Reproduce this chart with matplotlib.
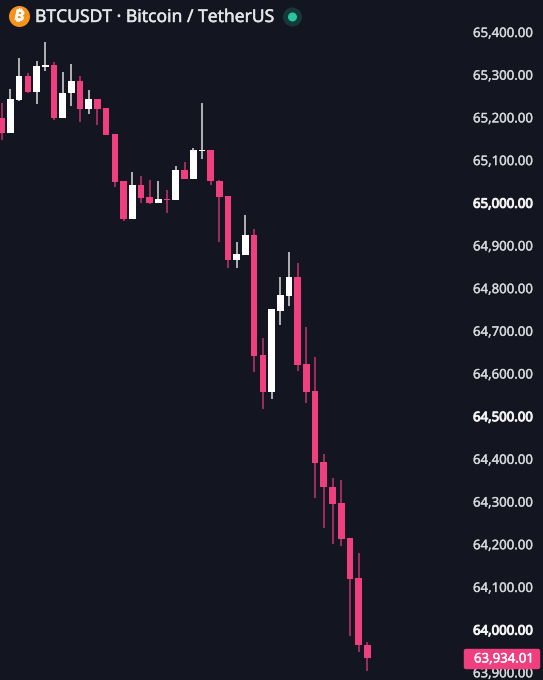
import matplotlib
matplotlib.use("Agg")
import matplotlib.pyplot as plt
import matplotlib.patheffects as pe
from matplotlib.patches import Circle, FancyBboxPatch
from matplotlib.transforms import Affine2D
import numpy as np

# candles, oldest first
opens = [65198, 65164, 65241, 65297, 65260, 65319, 65322, 65199, 65256, 65286, 65220,
         65243, 65222, 65162, 65050, 64963, 65042, 65014, 64999, 65009, 65007, 65076,
         65056, 65121, 65124, 65052, 65016, 64866, 64878, 64925, 64643, 64557, 64747,
         64782, 64825, 64622, 64559, 64393, 64335, 64296, 64215, 64121, 63964]
highs = [65234, 65266, 65338, 65303, 65331, 65377, 65330, 65306, 65324, 65297, 65264,
         65243, 65222, 65162, 65050, 65071, 65063, 65053, 65050, 65030, 65086, 65096,
         65128, 65234, 65124, 65054, 65016, 64907, 64971, 64938, 64683, 64752, 64827,
         64885, 64859, 64708, 64638, 64411, 64355, 64351, 64215, 64179, 63971]
lows = [65147, 65164, 65239, 65256, 65231, 65309, 65194, 65199, 65226, 65190, 65209,
        65183, 65159, 65038, 64957, 64963, 64999, 64996, 64999, 64975, 65007, 65056,
        65056, 65103, 65041, 64908, 64846, 64846, 64878, 64604, 64516, 64541, 64713,
        64758, 64606, 64531, 64308, 64237, 64201, 64195, 63986, 63947, 63904]
closes = [65164, 65243, 65297, 65260, 65320, 65322, 65199, 65258, 65286, 65220, 65243,
          65220, 65159, 65048, 64963, 65042, 65011, 64999, 65009, 65007, 65076, 65056,
          65124, 65123, 65050, 65014, 64866, 64880, 64925, 64641, 64557, 64750, 64784,
          64825, 64621, 64557, 64391, 64334, 64295, 64213, 64119, 63963, 63934.01]

tick_prices = [65400, 65300, 65200, 65100, 65000, 64900, 64800, 64700,
               64600, 64500, 64400, 64300, 64200, 64100, 64000, 63900]
bold_ticks = [65000, 64500, 64000]
title = "BTCUSDT · Bitcoin / TetherUS"
last_price = closes[-1]

BG = "#131620"
PINK = "#ef3f7e"
WICK_PINK = "#c23270"
WHITE = "#ffffff"
WICK_WHITE = "#dcdcde"
FONT = "Noto Sans"

fig = plt.figure(figsize=(5.43, 6.8), dpi=100, facecolor=BG)
ax = fig.add_axes([0, 0, 1, 1], facecolor=BG)
ax.set_xlim(-0.195, 62.18)
ax.set_ylim(63882, 65475)

x = np.arange(len(opens))
opens = np.array(opens)
closes = np.array(closes)
up = closes > opens

ax.vlines(x[up], np.array(lows)[up], np.array(highs)[up], color=WICK_WHITE, lw=1.1, zorder=2)
ax.vlines(x[~up], np.array(lows)[~up], np.array(highs)[~up], color=WICK_PINK, lw=1.1, zorder=2)
ax.bar(x[up], (closes - opens)[up], bottom=opens[up], width=0.76, color=WHITE, lw=0, zorder=3)
ax.bar(x[~up], (closes - opens)[~up], bottom=opens[~up], width=0.76, color=PINK, lw=0, zorder=3)

# price scale sits inside the figure
for s in ax.spines.values():
    s.set_visible(False)
ax.set_xticks([])
ax.yaxis.tick_right()
ax.set_yticks(tick_prices)
ax.set_yticklabels([f"{p:,.2f}" for p in tick_prices])
ax.tick_params(axis="y", length=0, pad=-50.4, labelcolor="#d6d7da", labelsize=9.5)
for lab, p in zip(ax.get_yticklabels(), tick_prices):
    lab.set_ha("left")
    lab.set_family(FONT)
    lab.set_path_effects([pe.withStroke(linewidth=0.25, foreground="#d6d7da")])
    if p in bold_ticks:
        # no bold face of this family here, so thicken the outline
        lab.set_color("#f2f2f3")
        lab.set_path_effects([pe.withStroke(linewidth=0.7, foreground="#f2f2f3")])

# last price tag, in pixels of the figure
pix = Affine2D().scale(1, -1).translate(0, 680)
ax.add_patch(FancyBboxPatch((464.5, 649.5), 75, 19, boxstyle="round,pad=0,rounding_size=1.5",
                            fc=PINK, ec=PINK, lw=1, transform=pix, zorder=5))
ax.text(474, 659, f"{last_price:,.2f}", color=WHITE, fontsize=9.5, family=FONT,
        va="center", ha="left", transform=pix, zorder=6,
        path_effects=[pe.withStroke(linewidth=0.25, foreground=WHITE)])

# header
ax.add_patch(Circle((19.5, 16.5), 10.5, fc="#f7931a", ec="none", transform=pix, zorder=5))
ax.text(19.5, 16.5, "₿", color=WHITE, fontsize=10.5, fontweight="bold",
        family=["Inter", "Noto Sans", "Open Sans", "Lato", "Roboto", "Liberation Sans", "DejaVu Sans"],
        rotation=-12, ha="center", va="center", transform=pix, zorder=6,
        path_effects=[pe.withStroke(linewidth=0.4, foreground=WHITE)])
ax.text(35, 17, title, color="#e4e5e7", fontsize=12.6, family=FONT,
        ha="left", va="center", transform=pix, zorder=6,
        path_effects=[pe.withStroke(linewidth=0.35, foreground="#e4e5e7")])
ax.add_patch(Circle((292.5, 17), 9.5, fc="#17383a", ec="none", transform=pix, zorder=5))
ax.add_patch(Circle((292.5, 17), 4.5, fc="#26c6a0", ec="none", transform=pix, zorder=6))

fig.savefig("out.png", dpi=100, facecolor=BG)
